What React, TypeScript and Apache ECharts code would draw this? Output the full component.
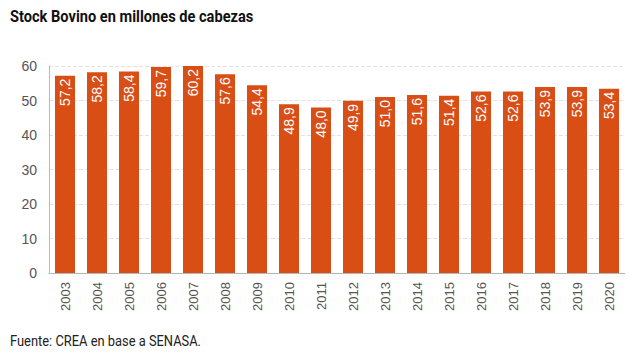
import React, { useEffect, useRef } from "react";
import * as echarts from "echarts";

const years = ["2003","2004","2005","2006","2007","2008","2009","2010","2011","2012","2013","2014","2015","2016","2017","2018","2019","2020"];
const stock = [57.2,58.2,58.4,59.7,60.2,57.6,54.4,48.9,48.0,49.9,51.0,51.6,51.4,52.6,52.6,53.9,53.9,53.4];
const yTicks = [0,10,20,30,40,50,60];
const titleText = "Stock Bovino en millones de cabezas";
const sourceText = "Fuente: CREA en base a SENASA.";

export default function App() {
  const ref = useRef<HTMLDivElement>(null);
  useEffect(() => {
    const chart = echarts.init(ref.current!, null, { renderer: "svg" });
    chart.setOption({
      animation: false,
      backgroundColor: "#ffffff",
      grid: { left: 49, right: 17, top: 66, bottom: 91, containLabel: false },
      xAxis: {
        type: "category",
        data: years,
        axisLine: { show: true, lineStyle: { color: "#b8b8b8", width: 1 } },
        axisTick: { show: false },
        axisLabel: { rotate: 90, color: "#555555", fontSize: 13, fontFamily: "Liberation Sans, Arial, sans-serif", margin: 9 },
      },
      yAxis: {
        type: "value",
        min: yTicks[0],
        max: yTicks[yTicks.length - 1],
        interval: 10,
        axisLine: { show: true, lineStyle: { color: "#b8b8b8", width: 1 } },
        axisTick: { show: false },
        axisLabel: { color: "#555555", fontSize: 14, fontFamily: "Liberation Sans, Arial, sans-serif", margin: 12 },
        splitLine: { show: true, lineStyle: { color: "#e2e2e2", type: "dashed", width: 1 } },
      },
      series: [
        {
          type: "bar",
          data: stock,
          barWidth: 20,
          itemStyle: { color: "#d94e15" },
          label: {
            show: true,
            position: "insideTop",
            rotate: 90,
            align: "right",
            verticalAlign: "middle",
            distance: 3,
            color: "#ffffff",
            fontSize: 14,
            fontFamily: "Liberation Sans, Arial, sans-serif",
            formatter: (p: any) => p.value.toFixed(1).replace(".", ","),
          },
        },
      ],
      graphic: [
        {
          type: "text",
          left: 10,
          top: 8,
          scaleX: 0.86,
          style: { text: titleText, fill: "#111111", font: "bold 17px Roboto, sans-serif" },
        },
        {
          type: "text",
          left: 10,
          top: 333,
          scaleX: 0.86,
          style: { text: sourceText, fill: "#222222", font: "15px Roboto, sans-serif" },
        },
      ],
    });
    return () => chart.dispose();
  }, []);
  return <div ref={ref} style={{ width: 642, height: 364, position: "absolute", left: 0, top: 0 }} />;
}
